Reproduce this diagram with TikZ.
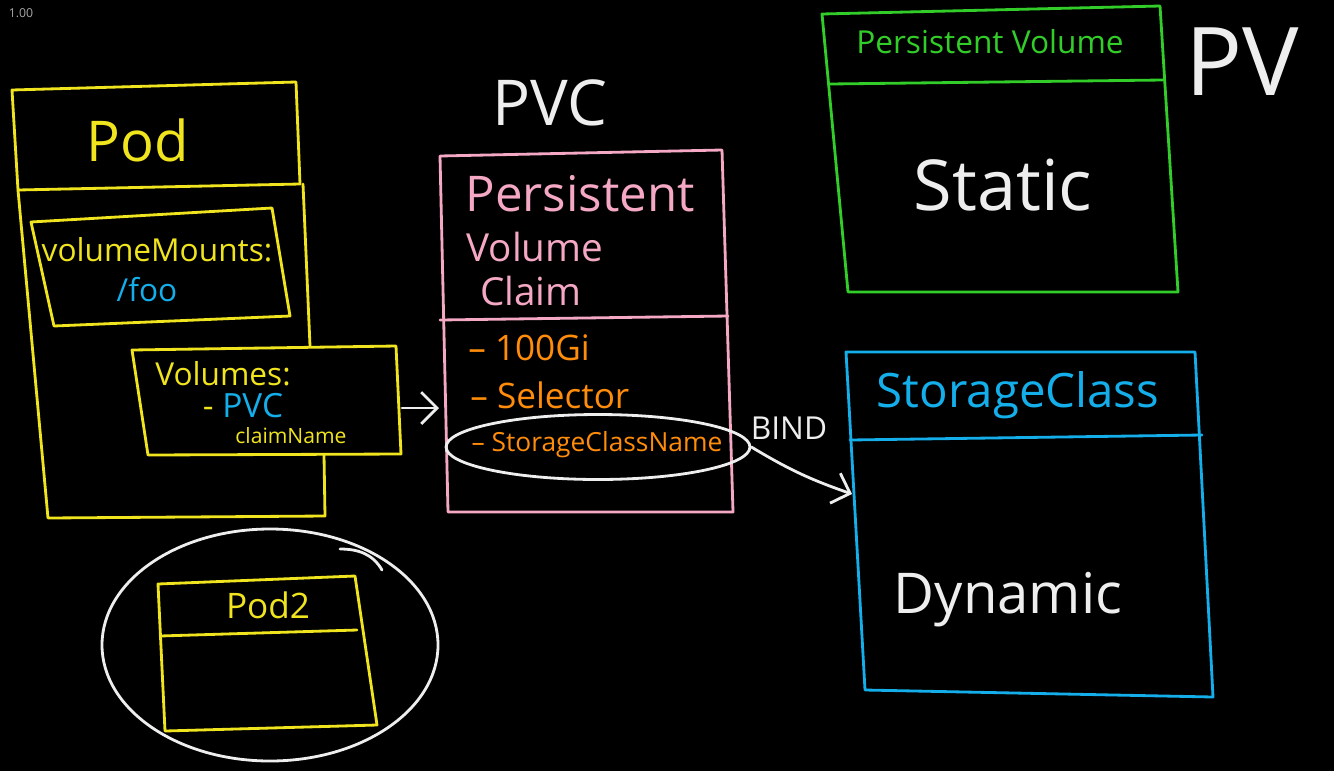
\documentclass[tikz,border=0pt]{standalone}
\usepackage{fontspec}
\setmainfont{Open Sans}
\usetikzlibrary{positioning,shapes.geometric,arrows.meta}

\definecolor{podyellow}{RGB}{240,228,30}
\definecolor{pvcpink}{RGB}{244,168,196}
\definecolor{itemorange}{RGB}{255,140,10}
\definecolor{pvgreen}{RGB}{50,205,40}
\definecolor{sccyan}{RGB}{20,175,235}
\definecolor{chalkwhite}{RGB}{238,238,238}

\newcommand{\fs}[1]{\fontsize{#1}{#1}\selectfont}

\tikzset{
  chalk/.style={line width=1.6pt, line join=round, line cap=round},
  label/.style={inner sep=0pt, anchor=center},
  >={Straight Barb[length=9pt, width=18pt, line width=1.6pt]}
}

\begin{document}
\begin{tikzpicture}[x=0.02cm, y=-0.02cm]
  \fill [black] (0, 0) rectangle (1334, 771);
  \useasboundingbox (0, 0) rectangle (1334, 771);
  \node [label, gray!70, font=\fs{7}] (zoomlvl) at (21, 13) {1.00};

  % pod
  \draw [chalk, podyellow] (12, 90) -- (296, 82) -- (300, 184) -- (18, 190) -- cycle;
  \draw [chalk, podyellow] (18, 190) -- (48, 518) -- (325, 516) -- (324, 455);
  \draw [chalk, podyellow] (303, 184) -- (310, 346);
  \draw [chalk, podyellow] (31, 222) -- (272, 208) -- (290, 316) -- (54, 326) -- cycle;
  \draw [chalk, podyellow] (132, 350) -- (396, 346) -- (401, 454) -- (148, 455) -- cycle;
  \node [label, podyellow, font=\fs{32}] (podtitle) at (138, 140) {Pod};
  \node [label, podyellow, font=\fs{18}] (mounts) at (157, 250) {volumeMounts:};
  \node [label, sccyan, font=\fs{18}] (foo) at (147, 290) {/foo};
  \node [label, podyellow, font=\fs{18}] (vols) at (223, 374) {Volumes:};
  \node [label, font=\fs{19}] (volpvc) at (243, 406) {\textcolor{podyellow}{-} \textcolor{sccyan}{PVC}};
  \node [label, podyellow, font=\fs{12}] (claimname) at (291, 436) {claimName};
  \coordinate (volsE) at (402, 408);

  % pvc
  \node [label, chalkwhite, font=\fs{36}] (pvclabel) at (550, 103) {PVC};
  \draw [chalk, pvcpink] (440, 156) -- (722, 150) -- (733, 512) -- (448, 512) -- cycle;
  \draw [chalk, pvcpink] (440, 320) -- (728, 316);
  \node [label, pvcpink, font=\fs{28}] (persist) at (580, 194) {Persistent};
  \node [label, pvcpink, font=\fs{22}] (volume) at (535, 247) {Volume};
  \node [label, pvcpink, font=\fs{22}] (claim) at (531, 291) {Claim};
  \node [label, anchor=west, itemorange, font=\fs{20}] (size) at (468, 348) {– 100Gi};
  \node [label, anchor=west, itemorange, font=\fs{20}] (selector) at (470, 395) {– Selector};
  \node [label, itemorange, font=\fs{15}] (scname) at (597, 445) {– StorageClassName};
  \node [draw=chalkwhite, chalk, ellipse, inner sep=0pt, minimum width=6.08cm,
         minimum height=1.3cm] (scring) at (598, 447) {};
  \coordinate (pvcW) at (439, 408);
  \draw [chalk, chalkwhite, ->] (volsE) -- (pvcW);

  % pv
  \draw [chalk, pvgreen] (822, 14) -- (1160, 6) -- (1178, 292) -- (848, 292) -- cycle;
  \draw [chalk, pvgreen] (830, 84) -- (1163, 80);
  \node [label, pvgreen, font=\fs{18}] (pvtitle) at (990, 42) {Persistent Volume};
  \node [label, chalkwhite, font=\fs{40}] (static) at (1003, 185) {Static};
  \node [label, chalkwhite, font=\fs{54}] (pvlabel) at (1242, 62) {PV};

  % storage class
  \draw [chalk, sccyan] (846, 352) -- (1195, 352) -- (1213, 697) -- (865, 690) -- cycle;
  \draw [chalk, sccyan] (850, 440) -- (1202, 435);
  \node [label, sccyan, font=\fs{27}] (sctitle) at (1018, 395) {StorageClass};
  \node [label, chalkwhite, font=\fs{32}] (dynamic) at (1008, 600) {Dynamic};
  \coordinate (scW) at (852, 494);
  \node [label, chalkwhite, font=\fs{18}] (bind) at (789, 428) {BIND};
  \draw [chalk, chalkwhite, ->] (scring.east) to [bend right=6] (scW);

  % pod 2
  \draw [chalk, chalkwhite] (270, 645) ellipse [x radius = 168, y radius = 116];
  \draw [chalk, chalkwhite] (340, 549) to [out=0, in=120] (382, 570);
  \draw [chalk, podyellow] (158, 584) -- (355, 576) -- (377, 725) -- (165, 731) -- cycle;
  \draw [chalk, podyellow] (160, 636) -- (357, 630);
  \node [label, podyellow, font=\fs{20}] (pod2) at (268, 605) {Pod2};
\end{tikzpicture}
\end{document}
